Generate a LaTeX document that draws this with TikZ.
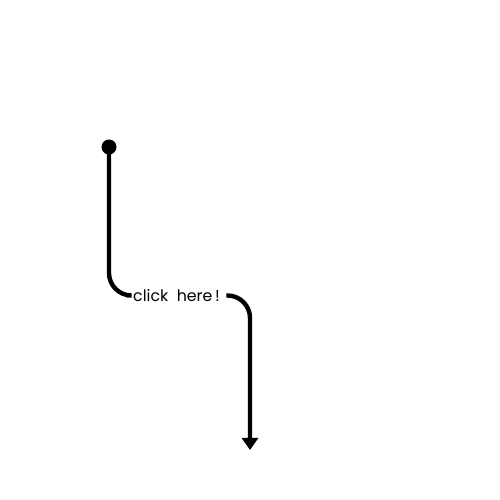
\documentclass[tikz,border=0pt]{standalone}
\usepackage{fontspec}
\setmainfont{Poppins}
\usetikzlibrary{arrows.meta,positioning}
\tikzset{
  every picture/.style={font=\small},
  wire/.style={line width=2.5pt,rounded corners=0.45cm},
  dot/.style={circle,fill,inner sep=0pt,minimum size=0.3cm},
  tag/.style={inner xsep=3.5pt,inner ysep=1pt},
}
\begin{document}
\begin{tikzpicture}
  \useasboundingbox (0,0) rectangle (10,10);
  \node[dot] (start) at (2.18,7.06) {};
  \node[tag] (click) at (3.53,4.09) {click\ \ here\,!};
  \coordinate (stop) at (5.0,1.0);
  \draw[wire] (start.center) |- (click.west);
  \draw[wire,-{Triangle[length=0.24cm,width=0.32cm]}] (click.east) -| (stop);
\end{tikzpicture}
\end{document}
